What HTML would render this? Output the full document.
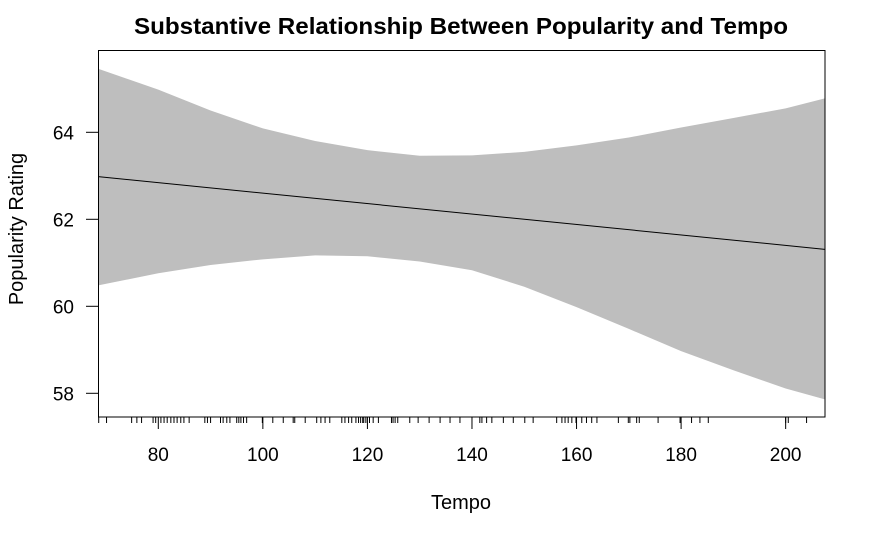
<!DOCTYPE html>
<html><head><meta charset="utf-8"><style>
body{margin:0;background:#fff}
svg text{font-family:"Liberation Sans",Arial,sans-serif;fill:#000}
</style></head><body>
<svg id="chart" width="875" height="540" viewBox="0 0 875 540" xmlns="http://www.w3.org/2000/svg">
<text x="461" y="34" text-anchor="middle" font-size="23.5" font-weight="bold" textLength="654" lengthAdjust="spacingAndGlyphs">Substantive Relationship Between Popularity and Tempo</text>
<text x="461" y="509" text-anchor="middle" font-size="20">Tempo</text>
<text transform="translate(23,229) rotate(-90)" text-anchor="middle" font-size="20">Popularity Rating</text>
<g id="band"></g>
<g id="fit"></g>
<g id="rug"></g>
<g id="xaxis"></g>
<g id="yaxis"></g>
<rect x="98.5" y="50.5" width="726.5" height="366.5" fill="none" stroke="#000" stroke-width="1"/>
</svg>
<script>
const bandTempo=[68.5,80,90,100,110,120,130,140,150,160,170,180,190,200,207.5];
const bandUpper=[65.46,64.98,64.5,64.09,63.8,63.59,63.46,63.47,63.55,63.70,63.88,64.11,64.33,64.55,64.78];
const bandLower=[60.48,60.76,60.95,61.08,61.17,61.15,61.03,60.83,60.45,59.98,59.48,58.97,58.53,58.11,57.86];
const fitTempo=[68.5,207.5];
const fitValue=[62.98,61.31];
const rugTempo=[68.6,70.1,74.9,75.9,76.8,79.0,79.5,80.5,81.1,81.7,82.4,83.0,83.6,84.3,84.9,85.9,88.9,89.4,90.0,91.9,92.4,93.1,93.7,95.0,95.4,95.8,96.3,96.9,99.9,101.9,103.9,105.8,106.1,108.1,110.3,111.1,111.9,112.8,115.1,115.7,116.4,117.0,117.8,118.3,118.7,119.1,119.3,119.7,120.4,121.1,122.1,124.6,124.9,125.3,125.8,128.1,129.7,131.8,133.9,135.8,137.7,141.5,141.9,142.8,143.8,146.0,147.9,150.1,151.7,156.2,157.2,157.8,158.4,159.1,159.9,161.0,161.9,162.9,163.9,168.0,169.9,170.2,171.5,172.0,175.6,179.8,182.0,183.6,185.2,200.0,200.5,204.0];
const xTicks=[80,100,120,140,160,180,200];
const yTicks=[58,60,62,64];
const NS='http://www.w3.org/2000/svg';
const xs=t=>158.3+(t-80)*5.228;
const ys=v=>219.3-(v-62)*43.5;
function mk(tag,attrs,parent){const e=document.createElementNS(NS,tag);for(const k in attrs)e.setAttribute(k,attrs[k]);parent.appendChild(e);return e;}
let pts=bandTempo.map((t,i)=>xs(t)+','+ys(bandUpper[i]));
for(let i=bandTempo.length-1;i>=0;i--)pts.push(xs(bandTempo[i])+','+ys(bandLower[i]));
const poly=mk('polygon',{points:pts.join(' '),fill:'#bebebe',stroke:'none'},document.getElementById('band'));


const ln=mk('polyline',{points:fitTempo.map((t,i)=>xs(t)+','+ys(fitValue[i])).join(' '),fill:'none',stroke:'#000','stroke-width':1},document.getElementById('fit'));


const rug=document.getElementById('rug');
rugTempo.forEach(t=>{const l=mk('line',{x1:xs(t),x2:xs(t),y1:417,y2:423,stroke:'#000','stroke-width':1},rug);

});
const xa=document.getElementById('xaxis');
xTicks.forEach(t=>{const l=mk('line',{x1:xs(t),x2:xs(t),y1:417,y2:429,stroke:'#000'},xa);


const tx=mk('text',{x:xs(t),y:461,'text-anchor':'middle','font-size':19},xa);tx.textContent=t;

});
const ya=document.getElementById('yaxis');
yTicks.forEach(v=>{const l=mk('line',{x1:86,x2:98.5,y1:ys(v),y2:ys(v),stroke:'#000'},ya);


const tx=mk('text',{x:74,y:ys(v)+7,'text-anchor':'end','font-size':19},ya);tx.textContent=v;

});
</script>
</body></html>
